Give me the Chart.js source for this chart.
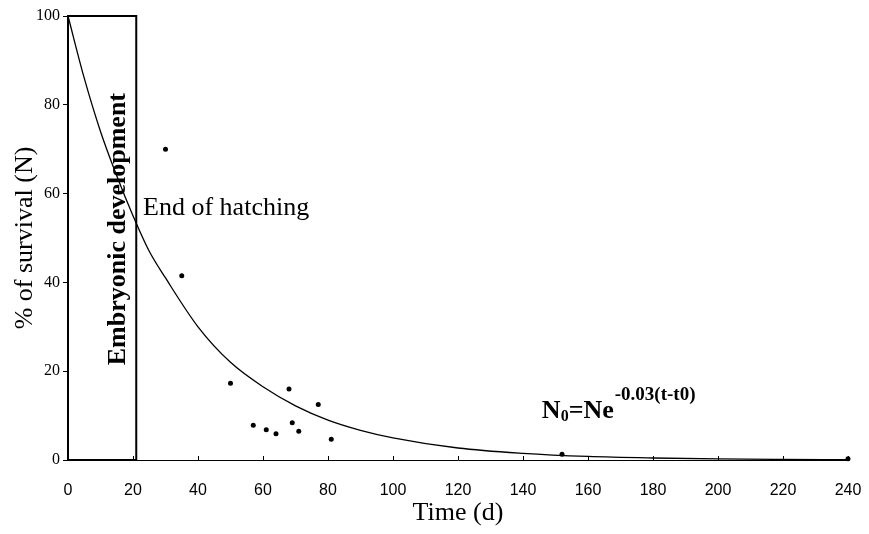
<!DOCTYPE html>
<html>
<head>
<meta charset="utf-8">
<script src="https://cdn.jsdelivr.net/npm/chart.js@4.4.1/dist/chart.umd.min.js"></script>
<style>
	html, body { margin: 0; padding: 0; background: #fff; }
	canvas { display: block; }
</style>
</head>
<body>
<canvas id="survival" width="869" height="534"></canvas>
<script>
// observed survival (%) against time (days)
var obsDays = [ 30, 35, 50, 57, 61, 64, 68, 69, 71, 77, 81, 152, 240 ];
var obsSurvival = [ 70, 41.5, 17.3, 7.8, 6.8, 5.9, 16, 8.4, 6.5, 12.5, 4.7, 1.3, 0.3 ];

// fitted decay curve
var fitDays = [ 0, 5, 10, 15, 20, 25, 30, 40, 50, 60, 70, 80, 90, 100, 120, 140, 160, 180, 200, 220, 240 ];
var fitSurvival = [ 100, 86, 74, 64, 55, 47, 41, 30, 22, 16.5, 12.2, 9, 6.7, 5, 2.7, 1.5, 0.8, 0.45, 0.25, 0.14, 0.07 ];

// embryonic development period box
var embryoDays = [ 0, 0, 21, 21, 0 ];
var embryoSurvival = [ 0, 100, 100, 0, 0 ];

// axis ticks
var timeTicks = [ 0, 20, 40, 60, 80, 100, 120, 140, 160, 180, 200, 220, 240 ];
var survivalTicks = [ 0, 20, 40, 60, 80, 100 ];

( function () {
	'use strict';

	var serif = '"Liberation Serif", "Times New Roman", serif';
	var narrow = '"Liberation Sans Narrow", "Liberation Sans", Arial, sans-serif';

	function pairs( xs, ys ) {
		return xs.map( function ( x, i ) {
			return { x: x, y: ys[ i ] };
		} );
	}

	var notesPlugin = {
		id: 'notes',
		afterDatasetsDraw: function ( chart ) {
			var ctx = chart.ctx;
			var xs = chart.scales.x;
			var ys = chart.scales.y;
			ctx.save();
			ctx.fillStyle = '#000';
			ctx.strokeStyle = '#000';

			// small upward ticks on the time axis
			ctx.lineWidth = 1;
			var base = ys.getPixelForValue( 0 );
			xs.ticks.forEach( function ( t ) {
				var px = Math.round( xs.getPixelForValue( t.value ) ) + 0.5;
				ctx.beginPath();
				ctx.moveTo( px, base );
				ctx.lineTo( px, base - 4 );
				ctx.stroke();
			} );

			// End of hatching
			ctx.textAlign = 'left';
			ctx.textBaseline = 'alphabetic';
			ctx.font = '26px ' + serif;
			ctx.fillText( 'End of hatching', xs.getPixelForValue( 23.1 ), ys.getPixelForValue( 55.2 ) );

			// Embryonic development (rotated)
			ctx.save();
			ctx.translate( xs.getPixelForValue( 15.4 ), ys.getPixelForValue( 52 ) );
			ctx.rotate( -Math.PI / 2 );
			ctx.textAlign = 'center';
			ctx.textBaseline = 'middle';
			ctx.font = 'bold 26px ' + serif;
			ctx.fillText( 'Embryonic development', 0, 0 );
			ctx.restore();

			// equation
			var x = xs.getPixelForValue( 145.8 );
			var y = ys.getPixelForValue( 9.5 );
			ctx.font = 'bold 26px ' + serif;
			ctx.fillText( 'N', x, y );
			x += ctx.measureText( 'N' ).width;
			ctx.font = 'bold 16px ' + serif;
			ctx.fillText( '0', x, y + 3 );
			x += ctx.measureText( '0' ).width;
			ctx.font = 'bold 26px ' + serif;
			ctx.fillText( '=Ne', x, y );
			x += ctx.measureText( '=Ne' ).width;
			ctx.font = 'bold 19px ' + serif;
			ctx.fillText( '-0.03(t-t0)', x + 1, y - 18 );

			ctx.restore();
		},
	};

	new Chart( document.getElementById( 'survival' ), {
		type: 'scatter',
		data: {
			datasets: [
				{
					label: 'Fit',
					type: 'line',
					data: pairs( fitDays, fitSurvival ),
					borderColor: '#000',
					borderWidth: 1.3,
					pointRadius: 0,
					cubicInterpolationMode: 'monotone',
					fill: false,
				},
				{
					label: 'Embryonic development',
					type: 'line',
					data: pairs( embryoDays, embryoSurvival ),
					borderColor: '#000',
					borderWidth: 2,
					pointRadius: 0,
					tension: 0,
					fill: false,
				},
				{
					label: 'Observed',
					data: pairs( obsDays, obsSurvival ),
					backgroundColor: '#000',
					borderColor: '#000',
					pointRadius: 2.5,
					pointBorderWidth: 0,
				},
			],
		},
		options: {
			responsive: false,
			animation: false,
			clip: false,
			layout: {
				padding: { top: 16, right: 21, left: 0, bottom: 0 },
			},
			plugins: {
				legend: { display: false },
				tooltip: { enabled: false },
			},
			scales: {
				x: {
					type: 'linear',
					min: timeTicks[ 0 ],
					max: timeTicks[ timeTicks.length - 1 ],
					afterBuildTicks: function ( scale ) {
						scale.ticks = timeTicks.map( function ( v ) {
							return { value: v };
						} );
					},
					afterFit: function ( scale ) {
						scale.height = 74;
						scale.paddingLeft = 0;
						scale.paddingRight = 0;
					},
					grid: { display: false },
					border: { color: '#000', width: 1 },
					ticks: {
						color: '#000',
						font: { family: narrow, size: 16 },
						padding: 13,
						maxRotation: 0,
					},
					title: {
						display: true,
						text: 'Time (d)',
						color: '#000',
						font: { family: serif, size: 26 },
						padding: { top: 0, bottom: 5 },
					},
				},
				y: {
					type: 'linear',
					min: survivalTicks[ 0 ],
					max: survivalTicks[ survivalTicks.length - 1 ],
					afterBuildTicks: function ( scale ) {
						scale.ticks = survivalTicks.map( function ( v ) {
							return { value: v };
						} );
					},
					afterFit: function ( scale ) {
						scale.width = 68;
						scale.paddingTop = 0;
						scale.paddingBottom = 0;
					},
					grid: {
						drawOnChartArea: false,
						tickLength: 5,
						color: '#000',
					},
					border: { color: '#000', width: 1.5 },
					ticks: {
						color: '#000',
						font: { family: serif, size: 16 },
						padding: 3,
					},
					title: {
						display: true,
						text: '% of survival (N)',
						color: '#000',
						font: { family: serif, size: 26 },
						padding: { top: 10, bottom: 0 },
					},
				},
			},
		},
		plugins: [ notesPlugin ],
	} );
} )();
</script>
</body>
</html>
